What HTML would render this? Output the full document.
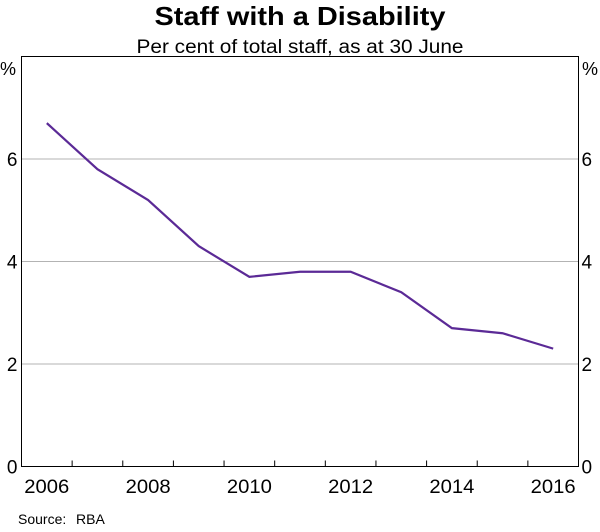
<!DOCTYPE html>
<html><head><meta charset="utf-8"><style>
body{margin:0;background:#fff;font-family:"Liberation Sans",Arial,sans-serif;}
svg text{font-family:"Liberation Sans",Arial,sans-serif;fill:#000;}
</style></head><body>
<svg id="chart" width="600" height="527" xmlns="http://www.w3.org/2000/svg">
<text x="300" y="25" text-anchor="middle" font-size="26" font-weight="bold" textLength="291" lengthAdjust="spacingAndGlyphs">Staff with a Disability</text>
<text x="300" y="53" text-anchor="middle" font-size="19" textLength="327" lengthAdjust="spacingAndGlyphs">Per cent of total staff, as at 30 June</text>
<g id="grid"></g>
<rect x="21.5" y="56.5" width="557" height="410" fill="none" stroke="#000" stroke-width="1"/>
<g id="axes"></g>
<polyline id="line" fill="none" stroke="#5b2a96" stroke-width="2.2"/>
<text x="0" y="75" font-size="18">%</text>
<text x="582" y="75" font-size="18">%</text>
<text x="18" y="524" font-size="14">Source:</text>
<text x="76" y="524" font-size="14">RBA</text>
</svg>
<script>
const years=[2006,2007,2008,2009,2010,2011,2012,2013,2014,2015,2016];
const values=[6.7,5.8,5.2,4.3,3.7,3.8,3.8,3.4,2.7,2.6,2.3];
const yTicks=[0,2,4,6];
const xLabels=[2006,2008,2010,2012,2014,2016];
const NS="http://www.w3.org/2000/svg";
const L=21.5,R=578.5,T=56.5,B=466.5;
const x0=2005.5,x1=2016.5,yMax=8;
function xs(v){return L+(v-x0)/(x1-x0)*(R-L);}
function ys(v){return B-v/yMax*(B-T);}
const grid=document.getElementById('grid'),axes=document.getElementById('axes');
function mk(tag,attrs,parent){const e=document.createElementNS(NS,tag);for(const k in attrs)e.setAttribute(k,attrs[k]);parent.appendChild(e);return e;}
yTicks.forEach(t=>{
  if(t>0){const g=mk('line',{x1:L,x2:R,y1:ys(t),y2:ys(t),stroke:'#b3b3b3','stroke-width':1},grid);
  
  }
  const a=mk('text',{x:L-4,y:ys(t)+7,'text-anchor':'end','font-size':19},axes);a.textContent=t;
  
  
  const b=mk('text',{x:R+3,y:ys(t)+7,'font-size':19},axes);b.textContent=t;
  
  
});
for(let i=0;i<years.length-1;i++){
  const xx=xs(years[i]+0.5);
  const tk=mk('line',{x1:xx,x2:xx,y1:B,y2:B-6,stroke:'#000','stroke-width':1},axes);
  
  
}
xLabels.forEach(y=>{
  const t=mk('text',{x:xs(y),y:493,'text-anchor':'middle','font-size':19,textLength:45,lengthAdjust:'spacingAndGlyphs'},axes);t.textContent=y;
  
  
});
document.getElementById('line').setAttribute('points',years.map((y,i)=>xs(y)+','+ys(values[i])).join(' '));
</script>
</body></html>
